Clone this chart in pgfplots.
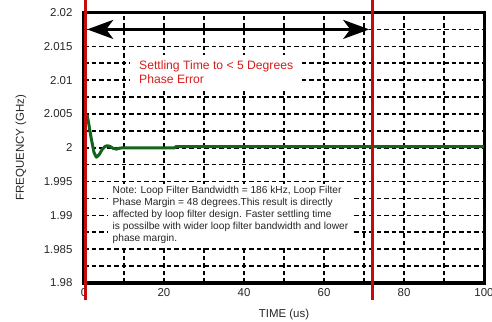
\documentclass[border=0pt]{standalone}
\usepackage{pgfplots}
\pgfplotsset{compat=1.18}
\usepackage{fontspec}
\setmainfont{Liberation Sans}
\usetikzlibrary{arrows.meta}
\definecolor{plotred}{RGB}{196,12,12}
\definecolor{textred}{RGB}{215,30,30}
\definecolor{plotgreen}{RGB}{20,100,30}
\begin{document}
\begin{tikzpicture}
\begin{axis}[
 set layers,
 scale only axis, width=400bp, height=270.5bp,
 xmin=0, xmax=100, ymin=1.98, ymax=2.02,
 xtick={0,20,40,60,80,100},
 minor xtick={10,30,50,70,90},
 ytick={1.98,1.985,1.99,1.995,2,2.005,2.01,2.015,2.02},
 yticklabels={1.98,1.985,1.99,1.995,2,2.005,2.01,2.015,2.02},
 minor ytick={1.9825,1.9875,1.9925,1.9975,2.0025,2.0075,2.0125,2.0175},
 scaled y ticks=false,
 grid=both,
 major grid style={black, line width=1.6bp, dash pattern=on 4.5bp off 3bp},
 minor grid style={black, line width=1.6bp, dash pattern=on 4.5bp off 3bp},
 major tick length=0pt, minor tick length=0pt,
 axis line style={line width=3bp, black},
 clip=false,
 tick label style={font=\fontsize{11.5}{13}\selectfont, text=black!85},
 /pgf/number format/assume math mode=true,
 yticklabel style={xshift=-8bp},
 xticklabel style={yshift=-2bp},
 xlabel={TIME (us)}, ylabel={FREQUENCY (GHz)},
 label style={font=\fontsize{11.5}{13}\selectfont, text=black!85},
 xlabel style={at={(axis description cs:0.5,-0.118)}, anchor=center},
 ylabel style={at={(axis description cs:-0.158,0.5)}, anchor=center},
]
\addplot[plotgreen, line width=3bp, line join=round] coordinates {
 (0.8,2.0048) (1.2,2.0035) (1.8,2.0014) (2.5,1.9993) (3.1,1.9986) (3.8,1.9990)
 (4.6,1.9998) (5.3,2.0002) (5.8,2.0003) (6.5,2.0002) (7.3,1.9999) (8.1,1.9998)
 (9,1.99995) (10,2.0) (22.7,2.0) (22.9,2.00015) (100,2.00015)
};
\addplot[plotred, line width=2.8bp] coordinates {(0.4,1.9775) (0.4,2.0219)};
\addplot[plotred, line width=2.8bp] coordinates {(72.1,1.9775) (72.1,2.0219)};
\draw[line width=3bp, {Stealth[length=26bp,width=19bp,inset=7bp]}-{Stealth[length=26bp,width=19bp,inset=7bp]}]
 (axis cs:0.8,2.0175) -- (axis cs:71.3,2.0175);
\node[fill=white, anchor=west, align=left, inner xsep=9bp, inner ysep=6bp,
 text=textred, font=\fontsize{12.2}{14}\selectfont]
 at (axis cs:11.5,2.0112) {Settling Time to < 5 Degrees\\Phase Error};
\node[fill=white, anchor=north west, align=left, inner xsep=4.5bp, inner ysep=2bp,
 text=black!85, font=\fontsize{10.2}{11.9}\selectfont]
 at (axis cs:6,1.9946) {Note: Loop Filter Bandwidth = 186 kHz, Loop Filter\\
Phase Margin = 48 degrees.This result is directly\\
affected by loop filter design. Faster settling time\\
is possilbe with wider loop filter bandwidth and lower\\
phase margin.};
\end{axis}
\pgfresetboundingbox
\useasboundingbox (-84bp,-39bp) rectangle (408bp,283bp);
\end{tikzpicture}
\end{document}
